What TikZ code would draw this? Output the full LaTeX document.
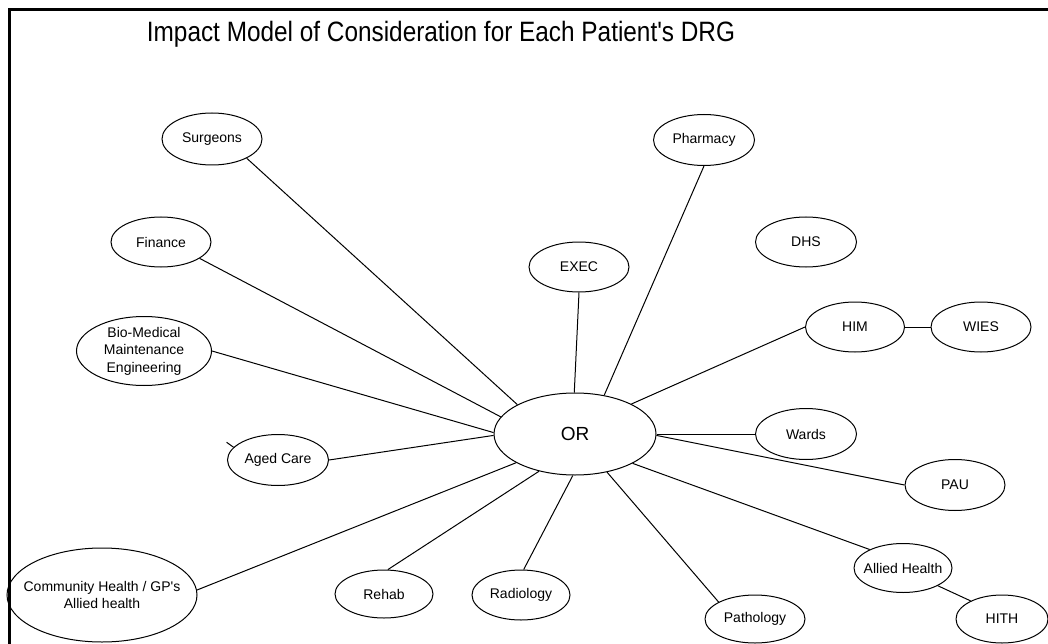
\documentclass[tikz,border=0pt]{standalone}
\usepackage{fontspec}
\setmainfont{Liberation Sans}
\usetikzlibrary{shapes.geometric}

\begin{document}
\begin{tikzpicture}[x=1pt,y=-1pt,
    bulle/.style={draw, ellipse, line width=1pt, inner sep=0pt, align=center, font=\fontsize{14}{17.5}\selectfont},
    lien/.style={line width=1pt}]
% cadre
\useasboundingbox (0,0) rectangle (1048,644);
\draw[line width=2.5pt] (9.5,644) -- (9.5,9.5) -- (1048,9.5);
\node[anchor=base] (titre) at (441,42) {\fontsize{28}{32}\selectfont\scalebox{0.87}[1]{Impact Model of Consideration for Each Patient\textquotesingle s DRG}};

% noeuds
\node[bulle, minimum width=162pt, minimum height=82pt, font=\fontsize{19}{22}\selectfont] (OR) at (575,434) {OR};
\node[bulle, minimum width=100pt, minimum height=52pt] (surgeons) at (212,139) {Surgeons};
\node[bulle, minimum width=100pt, minimum height=50pt] (finance) at (161,242) {Finance};
\node[bulle, minimum width=135pt, minimum height=69pt, inner ysep=-1pt] (biomed) at (144,351) {Bio-Medical\\Maintenance\\Engineering};
\node[bulle, minimum width=101pt, minimum height=51pt] (aged) at (278,460) {Aged Care};
\node[bulle, minimum width=190pt, minimum height=94pt, inner xsep=-12pt] (community) at (102,595) {Community Health / GP\textquotesingle s\\Allied health};
\node[bulle, minimum width=98pt, minimum height=48pt] (rehab) at (384,594) {Rehab};
\node[bulle, minimum width=98pt, minimum height=50pt] (radiology) at (521,595) {Radiology};
\node[bulle, minimum width=100pt, minimum height=48pt] (pathology) at (755,619) {Pathology};
\node[bulle, minimum width=98pt, minimum height=49pt, inner xsep=-5pt] (allied) at (903,568) {Allied Health};
\node[bulle, minimum width=92pt, minimum height=48pt] (hith) at (1002,619) {HITH};
\node[bulle, minimum width=100pt, minimum height=51pt] (pau) at (955,485) {PAU};
\node[bulle, minimum width=101pt, minimum height=51pt] (wards) at (806,434) {Wards};
\node[bulle, minimum width=99pt, minimum height=50pt] (him) at (855,327) {HIM};
\node[bulle, minimum width=100pt, minimum height=50pt] (wies) at (981,327) {WIES};
\node[bulle, minimum width=101pt, minimum height=50pt] (dhs) at (806,242) {DHS};
\node[bulle, minimum width=100pt, minimum height=50pt] (exec) at (579,267) {EXEC};
\node[bulle, minimum width=101pt, minimum height=51pt] (pharmacy) at (704,140) {Pharmacy};

% liens
\draw[lien] (OR.153) -- (surgeons.-29);
\draw[lien] (OR.167) -- (finance.-23);
\draw[lien] (OR.179) -- (biomed.east);
\draw[lien] (OR.181) -- (aged.east);
\draw[lien] (OR.206) -- (community.3);
\draw[lien] (OR.226) -- (rehab.81);
\draw[lien] (OR.267) -- (radiology.84);
\draw[lien] (OR.310) -- (pathology.155);
\draw[lien] (OR.333) -- (allied.151);
\draw[lien] (OR.-1) -- (pau.west);
\draw[lien] (OR.east) -- (wards.west);
\draw[lien] (OR.28) -- (him.west);
\draw[lien] (OR.53) -- (pharmacy.south);
\draw[lien] (OR.91) -- (exec.south);
\draw[lien] (him.east) -- (wies.west);
\draw[lien] (allied.-27) -- (hith.150);
\draw[lien] (aged.164) -- ++(-7,-5);
\end{tikzpicture}
\end{document}
